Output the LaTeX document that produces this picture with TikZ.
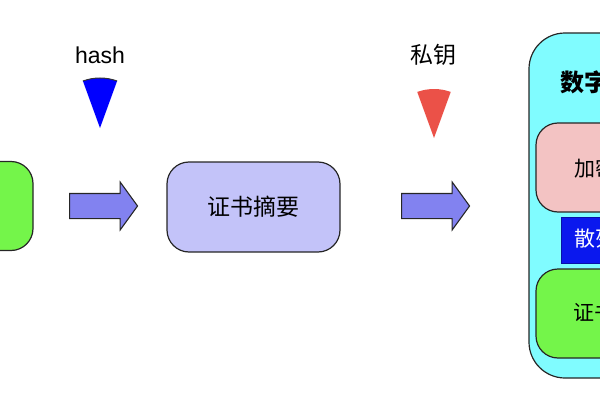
\documentclass[tikz,border=0pt]{standalone}
\usepackage{fontspec}
\setmainfont{Liberation Sans}
\newfontfamily\cjk{Noto Sans CJK SC}
\usetikzlibrary{positioning}
\usetikzlibrary{calc}
\usetikzlibrary{shapes.arrows}
\definecolor{leafgreen}{HTML}{74F54A}
\definecolor{lavender}{HTML}{C3C3F9}
\definecolor{flowblue}{HTML}{8282F0}
\definecolor{skycyan}{HTML}{80FCFF}
\definecolor{blush}{HTML}{F3C3C3}
\definecolor{deepblue}{HTML}{0A18EE}
\definecolor{keyred}{HTML}{EB5148}
\tikzset{
    % Common outline of the rounded boxes
    box/.style={draw=black!85, line width=1.2pt, rounded corners=22pt,
        minimum width=173pt, minimum height=89pt, inner sep=0pt},
%
    % Fat arrow between the stages
    flow arrow/.style={single arrow, draw=black!85, line width=1.1pt,
        fill=flowblue, minimum height=68pt, inner sep=0pt, inner ysep=12pt,
        single arrow head extend=11.5pt, single arrow tip angle=108},
%
    % Labels over the wedges
    wedge label/.style={font=\fontsize{23pt}{26pt}\selectfont},
    % Text inside the boxes
    box text/.style={anchor=west, inner sep=0pt,
        font=\cjk\fontsize{21pt}{24pt}\selectfont}}

\begin{document}
\begin{tikzpicture}[x=1pt, y=1pt]

\useasboundingbox (0,0) rectangle (600,400);
\clip (0,0) rectangle (600,400);

% source box, cut off by the left edge
\node [box, fill=leafgreen] (source) at (-53.5,194) {};

\node [flow arrow] (hash arrow) at (99,194) {};

\node [box, fill=lavender, minimum height=90pt,
    font=\cjk\fontsize{23pt}{26pt}\selectfont] (digest) at (253.5,193) {证书摘要};

\node [flow arrow] (key arrow) at (431,194) {};

% the certificate, cut off by the right edge
\node [box, fill=skycyan, rounded corners=36pt, minimum width=200pt,
    minimum height=345pt] (cert) at (629,194.5) {};
\node [box text, font=\cjk\bfseries\fontsize{24pt}{28pt}\selectfont]
    (cert title) at (560,318) {数字证书};

\node [box, fill=blush] (signed) at (622.5,232.5) {};
\node [box text] at (574,232) {加密摘要};

\node [draw=deepblue!70!black, fill=deepblue, minimum width=120pt,
    minimum height=46pt, inner sep=0pt] (algo) at (621,160) {};
\node [box text, text=white] at (574,161) {散列算法};

\node [box, fill=leafgreen] (content) at (622.5,86.5) {};
\node [box text] at (573,88) {证书内容};

% the two wedges
\coordinate (hash tip) at (100,272);
\fill [blue] (hash tip) -- ++(70:50) arc [start angle=70, end angle=110, radius=50] -- cycle;
\draw [line width=1pt, black!80] ($(hash tip)+(70:50)$) arc [start angle=70, end angle=110, radius=50];
\node [wedge label] (hash label) at (100,345) {hash};

\coordinate (key tip) at (434,262);
\fill [keyred] (key tip) -- ++(70:49) arc [start angle=70, end angle=110, radius=49] -- cycle;
\node [wedge label, font=\cjk\fontsize{23pt}{26pt}\selectfont] (key label) at (433,345) {私钥};

\end{tikzpicture}
\end{document}
